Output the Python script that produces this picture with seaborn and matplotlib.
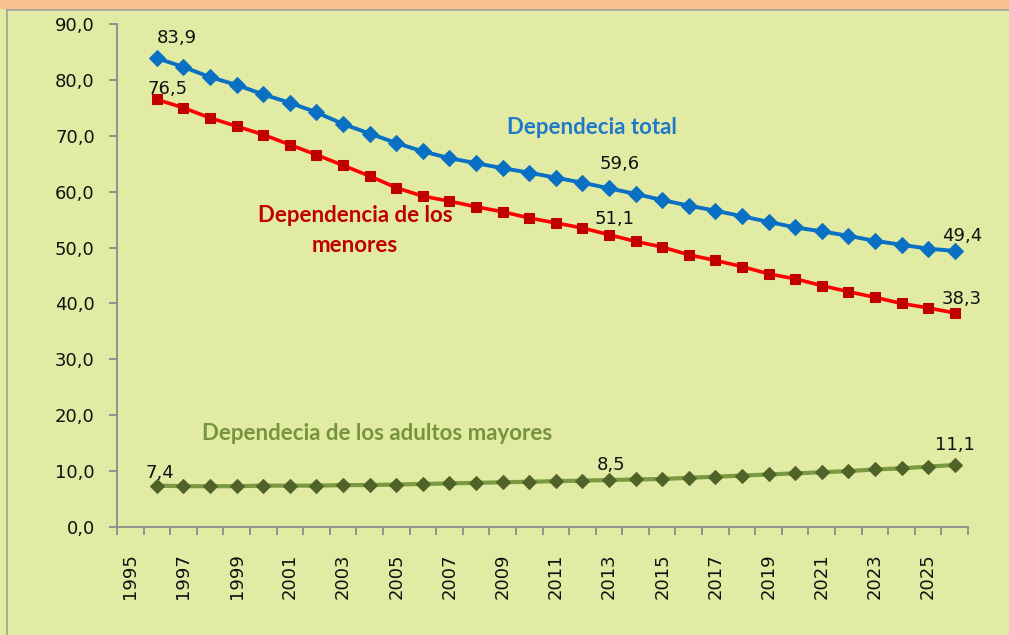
import numpy as np
import pandas as pd
import matplotlib
matplotlib.use("Agg")
import matplotlib.pyplot as plt
import seaborn as sns
from matplotlib.patches import Rectangle
from matplotlib.lines import Line2D
from matplotlib.ticker import FuncFormatter, MultipleLocator

years = list(range(1996, 2027))
total = [83.9, 82.3, 80.5, 79.1, 77.4, 75.9, 74.2, 72.1, 70.4, 68.7,
         67.2, 66.0, 65.1, 64.2, 63.4, 62.5, 61.6, 60.6, 59.6, 58.5,
         57.5, 56.6, 55.6, 54.6, 53.6, 52.9, 52.1, 51.2, 50.5, 49.8, 49.4]
menores = [76.5, 75.0, 73.2, 71.7, 70.2, 68.4, 66.6, 64.7, 62.8, 60.7,
           59.2, 58.3, 57.3, 56.4, 55.3, 54.4, 53.5, 52.3, 51.1, 50.1,
           48.7, 47.7, 46.6, 45.3, 44.4, 43.2, 42.1, 41.1, 40.0, 39.2, 38.3]
mayores = [7.4, 7.3, 7.3, 7.3, 7.4, 7.4, 7.4, 7.5, 7.5, 7.6,
           7.7, 7.8, 7.9, 8.0, 8.1, 8.2, 8.3, 8.4, 8.5, 8.6,
           8.8, 9.0, 9.2, 9.4, 9.6, 9.8, 10.0, 10.3, 10.5, 10.8, 11.1]
tick_years = list(range(1995, 2026, 2))
series_names = ["Dependecia total", "Dependencia de los\nmenores",
                "Dependecia de los adultos mayores"]

BG = "#E2EBA4"
sns.set_theme(style="white")
plt.rcParams["font.family"] = ["DejaVu Sans"]

fig = plt.figure(figsize=(10.09, 6.35), dpi=100, facecolor=BG)
ax = fig.add_axes([117/1009, 1-527/635, (968-117)/1009, (527-24)/635])
ax.set_facecolor(BG)

# frame decorations
fig.add_artist(Rectangle((0, 1-9/635), 1, 9/635, transform=fig.transFigure,
                         facecolor="#F8C08D", edgecolor="none"))
fig.add_artist(Line2D([7/1009, 1], [1-10/635, 1-10/635], transform=fig.transFigure,
                      color="#A0A0A0", lw=1.2))
fig.add_artist(Line2D([7/1009, 7/1009], [0, 1-10/635], transform=fig.transFigure,
                      color="#A0A0A0", lw=1.2))

df = pd.DataFrame({"year": years, "total": total, "menores": menores, "mayores": mayores})

sns.lineplot(data=df, x="year", y="mayores", ax=ax, color="#7A9A40", lw=3,
             marker="D", markersize=7.5, markerfacecolor="#4F6228",
             markeredgecolor="#4F6228")
sns.lineplot(data=df, x="year", y="menores", ax=ax, color="#FF0000", lw=2.6,
             marker="s", markersize=6.5, markerfacecolor="#C00000",
             markeredgecolor="#C00000")
sns.lineplot(data=df, x="year", y="total", ax=ax, color="#0A70C4", lw=2.8,
             marker="D", markersize=8, markerfacecolor="#0A70C4",
             markeredgecolor="#0A70C4")

ax.set_xlim(1994.5, 2026.5)
ax.set_ylim(0, 90)
ax.set_xlabel("")
ax.set_ylabel("")

for s in ["top", "right"]:
    ax.spines[s].set_visible(False)
for s in ["left", "bottom"]:
    ax.spines[s].set_color("#8C8C8C")
    ax.spines[s].set_linewidth(1.3)

ax.yaxis.set_major_locator(MultipleLocator(10))
ax.yaxis.set_major_formatter(FuncFormatter(lambda v, p: f"{v:.1f}".replace(".", ",")))
ax.tick_params(axis="y", which="major", direction="out", length=6, width=1.3,
               color="#8C8C8C", labelsize=13, pad=10, left=True, labelcolor="#111111")
ax.set_xticks(tick_years)
ax.set_xticklabels([str(y) for y in tick_years], rotation=90)
ax.set_xticks(np.arange(1994.5, 2027, 1), minor=True)
ax.tick_params(axis="x", which="major", length=0, labelsize=13, pad=19,
               labelcolor="#111111")
ax.tick_params(axis="x", which="minor", direction="out", length=6, width=1.3,
               color="#8C8C8C", bottom=True)
ax.grid(False)

px = 0.72  # points per pixel
def lab(x, y, dx, dy):
    ax.annotate(f"{y:.1f}".replace(".", ","), (x, y), xytext=(dx*px, dy*px),
                textcoords="offset points", ha="center", va="center",
                fontsize=13, color="#111111")

i14 = years.index(2014)
lab(years[0], total[0], 20, 20)
lab(years[0], menores[0], 11, 10)
lab(years[i14], total[i14], -16, 30)
lab(years[i14], menores[i14], -21, 22)
lab(years[i14], mayores[i14], -25, 14)
lab(years[-1], total[-1], 7, 15)
lab(years[-1], menores[-1], 7, 14)
lab(years[-1], mayores[-1], 0, 20)
lab(years[0], mayores[0], 3, 13)

ax.text(2012.36, 71.4, series_names[0], color="#1F78C8", fontsize=16,
        fontweight="bold", family="Lato", ha="center", va="center")
ax.text(2003.45, 53.0, series_names[1], color="#C00000", fontsize=16,
        fontweight="bold", family="Lato", ha="center", va="center",
        multialignment="center", linespacing=1.55)
ax.text(2004.3, 16.8, series_names[2], color="#77933C", fontsize=16,
        fontweight="bold", family="Lato", ha="center", va="center")

fig.savefig("out.png", dpi=100, facecolor=BG)
